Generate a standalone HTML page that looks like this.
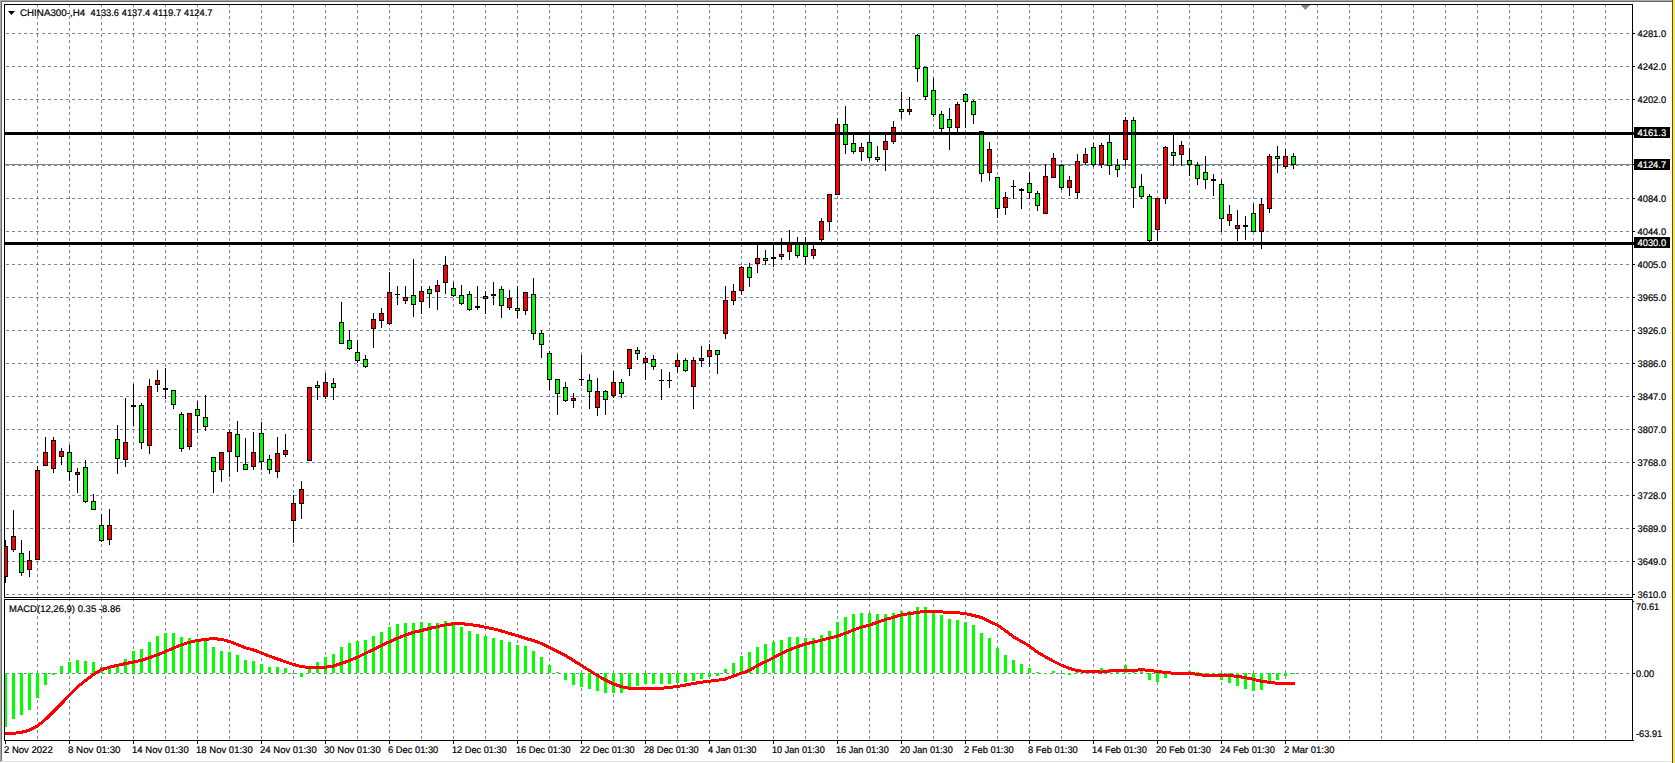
<!DOCTYPE html>
<html lang="en"><head><meta charset="utf-8"><title>CHINA300-,H4</title>
<style>html,body{margin:0;padding:0;background:#fff;overflow:hidden}body{width:1675px;height:763px}svg{display:block}text{font-family:"Liberation Sans",sans-serif;font-size:9.6px;fill:#000;stroke:#000;stroke-width:.2px}.g{stroke:#778899;stroke-width:1;stroke-dasharray:3 3;fill:none}.w{fill:#fff}.k{fill:#000}.r{fill:#f00}.u{fill:#0f0}</style></head><body>
<svg width="1675" height="763" viewBox="0 0 1675 763" shape-rendering="crispEdges">
<rect width="1675" height="763" fill="#fff"/>
<rect x="0" y="0" width="1673" height="1" fill="#a9a9a9"/>
<rect x="0" y="0" width="1" height="762" fill="#a9a9a9"/>
<rect x="1" y="1" width="1671" height="1" fill="#696969"/>
<rect x="1" y="1" width="1" height="760" fill="#696969"/>
<rect x="2" y="761" width="1670" height="1" fill="#e3e3e3"/>
<rect x="1672" y="0" width="1" height="763" fill="#4e4e58"/>
<rect x="1673" y="0" width="2" height="763" fill="#ffe93f"/>
<g class="g">
<path d="M37.5 4V597 M69.5 4V597 M101.5 4V597 M133.5 4V597 M165.5 4V597 M197.5 4V597 M229.5 4V597 M261.5 4V597 M293.5 4V597 M325.5 4V597 M357.5 4V597 M389.5 4V597 M421.5 4V597 M453.5 4V597 M485.5 4V597 M517.5 4V597 M549.5 4V597 M581.5 4V597 M613.5 4V597 M645.5 4V597 M677.5 4V597 M709.5 4V597 M741.5 4V597 M773.5 4V597 M805.5 4V597 M837.5 4V597 M869.5 4V597 M901.5 4V597 M933.5 4V597 M965.5 4V597 M997.5 4V597 M1029.5 4V597 M1061.5 4V597 M1093.5 4V597 M1125.5 4V597 M1157.5 4V597 M1189.5 4V597 M1221.5 4V597 M1253.5 4V597 M1285.5 4V597 M1317.5 4V597 M1349.5 4V597 M1381.5 4V597 M1413.5 4V597 M1445.5 4V597 M1477.5 4V597 M1509.5 4V597 M1541.5 4V597 M1573.5 4V597 M1605.5 4V597"/>
<path d="M37.5 598V740 M69.5 598V740 M101.5 598V740 M133.5 598V740 M165.5 598V740 M197.5 598V740 M229.5 598V740 M261.5 598V740 M293.5 598V740 M325.5 598V740 M357.5 598V740 M389.5 598V740 M421.5 598V740 M453.5 598V740 M485.5 598V740 M517.5 598V740 M549.5 598V740 M581.5 598V740 M613.5 598V740 M645.5 598V740 M677.5 598V740 M709.5 598V740 M741.5 598V740 M773.5 598V740 M805.5 598V740 M837.5 598V740 M869.5 598V740 M901.5 598V740 M933.5 598V740 M965.5 598V740 M997.5 598V740 M1029.5 598V740 M1061.5 598V740 M1093.5 598V740 M1125.5 598V740 M1157.5 598V740 M1189.5 598V740 M1221.5 598V740 M1253.5 598V740 M1285.5 598V740 M1317.5 598V740 M1349.5 598V740 M1381.5 598V740 M1413.5 598V740 M1445.5 598V740 M1477.5 598V740 M1509.5 598V740 M1541.5 598V740 M1573.5 598V740 M1605.5 598V740"/>
<path d="M6 33.5H1632 M6 66.5H1632 M6 99.5H1632 M6 132.5H1632 M6 165.5H1632 M6 198.5H1632 M6 231.5H1632 M6 264.5H1632 M6 297.5H1632 M6 330.5H1632 M6 363.5H1632 M6 396.5H1632 M6 429.5H1632 M6 462.5H1632 M6 495.5H1632 M6 528.5H1632 M6 561.5H1632 M6 594.5H1632"/>
<path d="M6 673.5H1632"/>
</g>
<rect x="5" y="164" width="1627" height="1" fill="#778899"/>
<clipPath id="cm"><rect x="5" y="5" width="1627" height="592"/></clipPath>
<g clip-path="url(#cm)">
<path class="k" d="M5 540h1v43h-1zM13 510h1v42h-1zM21 540h1v36h-1zM29 551h1v26h-1zM37 466h1v94h-1zM45 437h1v29h-1zM53 437h1v36h-1zM61 448h1v17h-1zM69 445h1v36h-1zM77 468h1v25h-1zM85 460h1v43h-1zM93 494h1v16h-1zM101 514h1v28h-1zM109 509h1v36h-1zM117 425h1v49h-1zM125 398h1v69h-1zM133 384h1v42h-1zM141 403h1v46h-1zM149 379h1v75h-1zM157 370h1v22h-1zM165 368h1v31h-1zM173 390h1v19h-1zM181 412h1v40h-1zM189 413h1v37h-1zM197 401h1v32h-1zM205 395h1v36h-1zM213 457h1v36h-1zM221 452h1v30h-1zM229 430h1v47h-1zM237 421h1v51h-1zM245 438h1v32h-1zM253 432h1v38h-1zM261 422h1v48h-1zM269 455h1v19h-1zM277 437h1v41h-1zM285 434h1v23h-1zM293 495h1v48h-1zM301 481h1v38h-1zM309 387h1v74h-1zM317 381h1v19h-1zM325 373h1v26h-1zM333 378h1v22h-1zM341 302h1v42h-1zM349 330h1v20h-1zM357 340h1v23h-1zM365 355h1v13h-1zM373 313h1v35h-1zM381 308h1v20h-1zM389 272h1v53h-1zM397 286h1v19h-1zM405 286h1v18h-1zM413 259h1v58h-1zM421 286h1v28h-1zM429 286h1v22h-1zM437 280h1v30h-1zM445 256h1v38h-1zM453 282h1v15h-1zM461 285h1v20h-1zM469 291h1v20h-1zM477 286h1v24h-1zM485 291h1v23h-1zM493 282h1v23h-1zM501 286h1v32h-1zM509 290h1v20h-1zM517 286h1v32h-1zM525 292h1v23h-1zM533 278h1v62h-1zM541 330h1v28h-1zM549 351h1v39h-1zM557 379h1v36h-1zM565 382h1v20h-1zM573 393h1v15h-1zM581 355h1v31h-1zM589 374h1v35h-1zM597 378h1v38h-1zM605 390h1v25h-1zM613 371h1v27h-1zM621 379h1v19h-1zM629 349h1v27h-1zM637 347h1v13h-1zM645 356h1v24h-1zM653 355h1v15h-1zM661 369h1v31h-1zM669 372h1v16h-1zM677 354h1v19h-1zM685 358h1v14h-1zM693 357h1v52h-1zM701 346h1v21h-1zM709 344h1v23h-1zM717 350h1v24h-1zM725 286h1v53h-1zM733 284h1v21h-1zM741 266h1v29h-1zM749 263h1v24h-1zM757 243h1v30h-1zM765 250h1v15h-1zM773 243h1v24h-1zM781 238h1v22h-1zM789 230h1v30h-1zM797 237h1v21h-1zM805 237h1v27h-1zM813 243h1v16h-1zM821 218h1v26h-1zM829 194h1v37h-1zM837 118h1v77h-1zM845 106h1v48h-1zM853 133h1v21h-1zM861 143h1v18h-1zM869 133h1v28h-1zM877 146h1v16h-1zM885 133h1v38h-1zM893 121h1v23h-1zM901 92h1v27h-1zM909 97h1v18h-1zM917 34h1v48h-1zM925 67h1v33h-1zM933 78h1v39h-1zM941 111h1v23h-1zM949 108h1v42h-1zM957 102h1v32h-1zM965 93h1v35h-1zM973 100h1v24h-1zM981 131h1v51h-1zM989 142h1v39h-1zM997 177h1v41h-1zM1005 192h1v23h-1zM1013 180h1v19h-1zM1021 188h1v21h-1zM1029 172h1v27h-1zM1037 191h1v20h-1zM1045 164h1v50h-1zM1053 153h1v25h-1zM1061 164h1v26h-1zM1069 176h1v20h-1zM1077 154h1v45h-1zM1085 148h1v17h-1zM1093 143h1v24h-1zM1101 143h1v25h-1zM1109 133h1v42h-1zM1117 159h1v18h-1zM1125 117h1v49h-1zM1133 117h1v91h-1zM1141 174h1v25h-1zM1149 194h1v49h-1zM1157 198h1v43h-1zM1165 146h1v58h-1zM1173 133h1v33h-1zM1181 141h1v25h-1zM1189 148h1v28h-1zM1197 162h1v23h-1zM1205 156h1v33h-1zM1213 174h1v22h-1zM1221 180h1v52h-1zM1229 205h1v21h-1zM1237 210h1v31h-1zM1245 216h1v24h-1zM1253 204h1v28h-1zM1261 198h1v51h-1zM1269 154h1v59h-1zM1277 146h1v27h-1zM1285 149h1v20h-1zM1293 153h1v16h-1z"/>
<path class="k" d="M3 546h5v31h-5zM11 536h5v14h-5zM19 553h5v20h-5zM27 560h5v10h-5zM35 470h5v90h-5zM43 452h5v14h-5zM51 440h5v29h-5zM59 451h5v6h-5zM67 452h5v20h-5zM75 472h5v3h-5zM83 467h5v35h-5zM91 501h5v9h-5zM99 525h5v16h-5zM107 525h5v15h-5zM115 439h5v20h-5zM123 442h5v18h-5zM131 405h5v2h-5zM139 405h5v38h-5zM147 386h5v60h-5zM155 380h5v5h-5zM163 388h5v2h-5zM171 390h5v15h-5zM179 414h5v35h-5zM187 413h5v34h-5zM195 409h5v7h-5zM203 417h5v10h-5zM211 457h5v15h-5zM219 452h5v18h-5zM227 432h5v20h-5zM235 434h5v23h-5zM243 464h5v6h-5zM251 452h5v15h-5zM259 433h5v29h-5zM267 459h5v11h-5zM275 453h5v19h-5zM283 450h5v5h-5zM291 503h5v18h-5zM299 489h5v15h-5zM307 387h5v74h-5zM315 385h5v3h-5zM323 382h5v15h-5zM331 383h5v5h-5zM339 322h5v22h-5zM347 340h5v9h-5zM355 352h5v9h-5zM363 359h5v8h-5zM371 319h5v10h-5zM379 313h5v8h-5zM387 292h5v32h-5zM395 294h5v1h-5zM403 297h5v4h-5zM411 295h5v10h-5zM419 291h5v11h-5zM427 289h5v5h-5zM435 285h5v7h-5zM443 265h5v18h-5zM451 288h5v8h-5zM459 295h5v9h-5zM467 294h5v16h-5zM475 306h5v2h-5zM483 296h5v3h-5zM491 294h5v2h-5zM499 289h5v17h-5zM507 298h5v10h-5zM515 308h5v3h-5zM523 292h5v19h-5zM531 294h5v40h-5zM539 333h5v12h-5zM547 353h5v27h-5zM555 379h5v15h-5zM563 387h5v14h-5zM571 398h5v3h-5zM579 379h5v1h-5zM587 380h5v12h-5zM595 391h5v17h-5zM603 391h5v9h-5zM611 382h5v14h-5zM619 382h5v12h-5zM627 349h5v20h-5zM635 350h5v4h-5zM643 358h5v5h-5zM651 359h5v8h-5zM659 380h5v1h-5zM667 380h5v1h-5zM675 360h5v7h-5zM683 360h5v11h-5zM691 360h5v27h-5zM699 358h5v3h-5zM707 350h5v7h-5zM715 350h5v5h-5zM723 300h5v34h-5zM731 291h5v10h-5zM739 267h5v24h-5zM747 267h5v11h-5zM755 258h5v6h-5zM763 258h5v3h-5zM771 257h5v2h-5zM779 254h5v3h-5zM787 243h5v9h-5zM795 243h5v13h-5zM803 244h5v13h-5zM811 249h5v7h-5zM819 221h5v19h-5zM827 194h5v28h-5zM835 124h5v71h-5zM843 124h5v21h-5zM851 143h5v9h-5zM859 147h5v5h-5zM867 142h5v16h-5zM875 157h5v3h-5zM883 141h5v9h-5zM891 127h5v15h-5zM899 109h5v3h-5zM907 109h5v3h-5zM915 35h5v34h-5zM923 67h5v30h-5zM931 90h5v25h-5zM939 114h5v15h-5zM947 119h5v9h-5zM955 104h5v24h-5zM963 94h5v8h-5zM971 101h5v14h-5zM979 131h5v43h-5zM987 149h5v24h-5zM995 177h5v32h-5zM1003 197h5v11h-5zM1011 186h5v1h-5zM1019 189h5v2h-5zM1027 183h5v10h-5zM1035 193h5v13h-5zM1043 176h5v38h-5zM1051 158h5v20h-5zM1059 165h5v23h-5zM1067 180h5v8h-5zM1075 161h5v32h-5zM1083 154h5v9h-5zM1091 147h5v18h-5zM1099 145h5v20h-5zM1107 142h5v24h-5zM1115 165h5v5h-5zM1123 120h5v40h-5zM1131 120h5v68h-5zM1139 186h5v11h-5zM1147 196h5v45h-5zM1155 198h5v32h-5zM1163 147h5v52h-5zM1171 152h5v4h-5zM1179 145h5v10h-5zM1187 160h5v5h-5zM1195 165h5v14h-5zM1203 172h5v8h-5zM1211 179h5v2h-5zM1219 184h5v35h-5zM1227 214h5v7h-5zM1235 225h5v4h-5zM1243 225h5v2h-5zM1251 213h5v19h-5zM1259 204h5v28h-5zM1267 156h5v53h-5zM1275 156h5v3h-5zM1283 156h5v11h-5zM1291 156h5v9h-5z"/>
<path class="r" d="M4 547h3v29h-3zM12 537h3v12h-3zM28 561h3v8h-3zM36 471h3v88h-3zM44 453h3v12h-3zM52 441h3v27h-3zM60 452h3v4h-3zM76 473h3v1h-3zM108 526h3v13h-3zM124 443h3v16h-3zM148 387h3v58h-3zM156 381h3v3h-3zM188 414h3v32h-3zM220 453h3v16h-3zM228 433h3v18h-3zM252 453h3v13h-3zM276 454h3v17h-3zM284 451h3v3h-3zM292 504h3v16h-3zM300 490h3v13h-3zM308 388h3v72h-3zM324 383h3v13h-3zM372 320h3v8h-3zM380 314h3v6h-3zM388 293h3v30h-3zM404 298h3v2h-3zM420 292h3v9h-3zM436 286h3v5h-3zM444 266h3v16h-3zM484 297h3v1h-3zM508 299h3v8h-3zM524 293h3v17h-3zM572 399h3v1h-3zM596 392h3v15h-3zM612 383h3v12h-3zM628 350h3v18h-3zM644 359h3v3h-3zM676 361h3v5h-3zM692 361h3v25h-3zM700 359h3v1h-3zM708 351h3v5h-3zM724 301h3v32h-3zM732 292h3v8h-3zM740 268h3v22h-3zM756 259h3v4h-3zM780 255h3v1h-3zM788 244h3v7h-3zM812 250h3v5h-3zM820 222h3v17h-3zM828 195h3v26h-3zM836 125h3v69h-3zM860 148h3v3h-3zM884 142h3v7h-3zM892 128h3v13h-3zM908 110h3v1h-3zM956 105h3v22h-3zM988 150h3v22h-3zM1004 198h3v9h-3zM1044 177h3v36h-3zM1052 159h3v18h-3zM1068 181h3v6h-3zM1076 162h3v30h-3zM1084 155h3v7h-3zM1100 146h3v18h-3zM1124 121h3v38h-3zM1156 199h3v30h-3zM1164 148h3v50h-3zM1180 146h3v8h-3zM1228 215h3v5h-3zM1236 226h3v2h-3zM1260 205h3v26h-3zM1268 157h3v51h-3zM1284 157h3v9h-3z"/>
<path class="u" d="M20 554h3v18h-3zM68 453h3v18h-3zM84 468h3v33h-3zM92 502h3v7h-3zM100 526h3v14h-3zM116 440h3v18h-3zM140 406h3v36h-3zM172 391h3v13h-3zM180 415h3v33h-3zM196 410h3v5h-3zM204 418h3v8h-3zM212 458h3v13h-3zM236 435h3v21h-3zM244 465h3v4h-3zM260 434h3v27h-3zM268 460h3v9h-3zM316 386h3v1h-3zM332 384h3v3h-3zM340 323h3v20h-3zM348 341h3v7h-3zM356 353h3v7h-3zM364 360h3v6h-3zM412 296h3v8h-3zM428 290h3v3h-3zM452 289h3v6h-3zM460 296h3v7h-3zM468 295h3v14h-3zM500 290h3v15h-3zM516 309h3v1h-3zM532 295h3v38h-3zM540 334h3v10h-3zM548 354h3v25h-3zM556 380h3v13h-3zM564 388h3v12h-3zM588 381h3v10h-3zM604 392h3v7h-3zM620 383h3v10h-3zM636 351h3v2h-3zM652 360h3v6h-3zM684 361h3v9h-3zM716 351h3v3h-3zM748 268h3v9h-3zM764 259h3v1h-3zM796 244h3v11h-3zM804 245h3v11h-3zM844 125h3v19h-3zM852 144h3v7h-3zM868 143h3v14h-3zM876 158h3v1h-3zM900 110h3v1h-3zM916 36h3v32h-3zM924 68h3v28h-3zM932 91h3v23h-3zM940 115h3v13h-3zM948 120h3v7h-3zM964 95h3v6h-3zM972 102h3v12h-3zM980 132h3v41h-3zM996 178h3v30h-3zM1028 184h3v8h-3zM1036 194h3v11h-3zM1060 166h3v21h-3zM1092 148h3v16h-3zM1108 143h3v22h-3zM1116 166h3v3h-3zM1132 121h3v66h-3zM1140 187h3v9h-3zM1148 197h3v43h-3zM1172 153h3v2h-3zM1188 161h3v3h-3zM1196 166h3v12h-3zM1204 173h3v6h-3zM1220 185h3v33h-3zM1252 214h3v17h-3zM1276 157h3v1h-3zM1292 157h3v7h-3z"/>
</g>
<rect x="5" y="132" width="1629" height="3" class="k"/>
<rect x="5" y="242" width="1629" height="3" class="k"/>
<clipPath id="ci"><rect x="5" y="600" width="1627" height="140"/></clipPath>
<g clip-path="url(#ci)">
<path class="u" d="M4 673h3v54h-3zM12 673h3v46h-3zM20 673h3v42h-3zM28 673h3v37h-3zM36 673h3v25h-3zM44 673h3v12h-3zM52 673h3v2h-3zM60 666h3v7h-3zM68 662h3v11h-3zM76 660h3v13h-3zM84 661h3v12h-3zM92 662h3v11h-3zM100 667h3v6h-3zM108 668h3v5h-3zM116 665h3v8h-3zM124 659h3v14h-3zM132 651h3v22h-3zM140 649h3v24h-3zM148 642h3v31h-3zM156 636h3v37h-3zM164 633h3v40h-3zM172 633h3v40h-3zM180 637h3v36h-3zM188 638h3v35h-3zM196 640h3v33h-3zM204 641h3v32h-3zM212 647h3v26h-3zM220 651h3v22h-3zM228 652h3v21h-3zM236 655h3v18h-3zM244 660h3v13h-3zM252 661h3v12h-3zM260 664h3v9h-3zM268 667h3v6h-3zM276 667h3v6h-3zM284 668h3v5h-3zM292 673h3v1h-3zM300 673h3v4h-3zM308 668h3v5h-3zM316 662h3v11h-3zM324 657h3v16h-3zM332 654h3v19h-3zM340 647h3v26h-3zM348 643h3v30h-3zM356 641h3v32h-3zM364 640h3v33h-3zM372 636h3v37h-3zM380 632h3v41h-3zM388 627h3v46h-3zM396 624h3v49h-3zM404 623h3v50h-3zM412 623h3v50h-3zM420 622h3v51h-3zM428 623h3v50h-3zM436 623h3v50h-3zM444 621h3v52h-3zM452 624h3v49h-3zM460 627h3v46h-3zM468 631h3v42h-3zM476 634h3v39h-3zM484 636h3v37h-3zM492 638h3v35h-3zM500 640h3v33h-3zM508 642h3v31h-3zM516 645h3v28h-3zM524 646h3v27h-3zM532 651h3v22h-3zM540 657h3v16h-3zM548 665h3v8h-3zM556 672h3v1h-3zM564 673h3v7h-3zM572 673h3v12h-3zM580 673h3v14h-3zM588 673h3v16h-3zM596 673h3v18h-3zM604 673h3v20h-3zM612 673h3v20h-3zM620 673h3v20h-3zM628 673h3v16h-3zM636 673h3v13h-3zM644 673h3v11h-3zM652 673h3v11h-3zM660 673h3v11h-3zM668 673h3v11h-3zM676 673h3v10h-3zM684 673h3v9h-3zM692 673h3v8h-3zM700 673h3v6h-3zM708 673h3v4h-3zM716 673h3v3h-3zM724 669h3v4h-3zM732 663h3v10h-3zM740 656h3v17h-3zM748 652h3v21h-3zM756 647h3v26h-3zM764 644h3v29h-3zM772 642h3v31h-3zM780 640h3v33h-3zM788 637h3v36h-3zM796 637h3v36h-3zM804 638h3v35h-3zM812 638h3v35h-3zM820 635h3v38h-3zM828 631h3v42h-3zM836 622h3v51h-3zM844 617h3v56h-3zM852 614h3v59h-3zM860 613h3v60h-3zM868 613h3v60h-3zM876 614h3v59h-3zM884 614h3v59h-3zM892 613h3v60h-3zM900 611h3v62h-3zM908 611h3v62h-3zM916 607h3v66h-3zM924 607h3v66h-3zM932 612h3v61h-3zM940 615h3v58h-3zM948 619h3v54h-3zM956 620h3v53h-3zM964 622h3v51h-3zM972 625h3v48h-3zM980 633h3v40h-3zM988 638h3v35h-3zM996 648h3v25h-3zM1004 655h3v18h-3zM1012 660h3v13h-3zM1020 664h3v9h-3zM1028 668h3v5h-3zM1036 672h3v1h-3zM1044 673h3v1h-3zM1052 671h3v2h-3zM1060 673h3v1h-3zM1068 673h3v2h-3zM1076 671h3v2h-3zM1084 672h3v1h-3zM1092 672h3v1h-3zM1100 668h3v5h-3zM1108 669h3v4h-3zM1116 669h3v4h-3zM1124 665h3v8h-3zM1132 671h3v2h-3zM1140 671h3v2h-3zM1148 673h3v7h-3zM1156 673h3v9h-3zM1164 673h3v5h-3zM1172 673h3v1h-3zM1180 673h3v1h-3zM1188 671h3v2h-3zM1196 672h3v1h-3zM1204 673h3v1h-3zM1212 673h3v1h-3zM1220 673h3v7h-3zM1228 673h3v10h-3zM1236 673h3v13h-3zM1244 673h3v16h-3zM1252 673h3v18h-3zM1260 673h3v17h-3zM1268 673h3v11h-3zM1276 673h3v7h-3zM1284 673h3v3h-3zM1292 673h3v1h-3z"/>
<polyline points="5.5,733.4 13.5,733.3 21.5,732.3 29.5,730.2 37.5,725.9 45.5,719.4 53.5,711.4 61.5,703.5 69.5,695.2 77.5,686.9 85.5,680.5 93.5,674.4 101.5,669.6 109.5,667.2 117.5,665.3 125.5,663.6 133.5,662.0 141.5,660.3 149.5,657.7 157.5,654.8 165.5,651.6 173.5,648.0 181.5,644.8 189.5,642.3 197.5,640.4 205.5,639.4 213.5,638.6 221.5,639.4 229.5,641.5 237.5,644.6 245.5,647.8 253.5,650.0 261.5,652.9 269.5,656.2 277.5,659.0 285.5,661.9 293.5,664.5 301.5,666.7 309.5,667.4 317.5,667.4 325.5,667.3 333.5,666.0 341.5,663.4 349.5,660.5 357.5,657.2 365.5,653.3 373.5,649.4 381.5,645.4 389.5,641.8 397.5,638.2 405.5,635.0 413.5,632.4 421.5,630.5 429.5,628.5 437.5,626.6 445.5,624.9 453.5,623.7 461.5,623.7 469.5,624.5 477.5,625.6 485.5,627.3 493.5,628.8 501.5,631.0 509.5,633.4 517.5,635.7 525.5,638.4 533.5,640.6 541.5,643.6 549.5,647.5 557.5,651.4 565.5,655.5 573.5,660.5 581.5,665.5 589.5,670.6 597.5,675.6 605.5,680.0 613.5,684.0 621.5,686.7 629.5,688.3 637.5,689.0 645.5,688.6 653.5,688.3 661.5,688.3 669.5,687.5 677.5,686.4 685.5,685.0 693.5,683.5 701.5,682.2 709.5,681.2 717.5,680.3 725.5,679.0 733.5,676.0 741.5,673.2 749.5,670.3 757.5,665.6 765.5,661.7 773.5,657.7 781.5,653.6 789.5,649.7 797.5,646.8 805.5,644.0 813.5,642.1 821.5,640.1 829.5,638.2 837.5,636.0 845.5,633.2 853.5,630.0 861.5,627.1 869.5,625.2 877.5,622.3 885.5,619.5 893.5,617.3 901.5,614.8 909.5,613.7 917.5,612.3 925.5,611.5 933.5,611.8 941.5,611.8 949.5,612.7 957.5,612.7 965.5,613.7 973.5,615.4 981.5,617.6 989.5,621.6 997.5,625.2 1005.5,630.7 1013.5,636.8 1021.5,641.4 1029.5,646.1 1037.5,652.2 1045.5,656.9 1053.5,661.3 1061.5,665.2 1069.5,668.5 1077.5,670.6 1085.5,671.6 1093.5,671.6 1101.5,672.1 1109.5,670.9 1117.5,670.9 1125.5,670.6 1133.5,670.5 1141.5,669.6 1149.5,670.5 1157.5,671.4 1165.5,672.5 1173.5,673.2 1181.5,673.2 1189.5,673.2 1197.5,674.4 1205.5,675.4 1213.5,675.4 1221.5,675.4 1229.5,675.4 1237.5,676.4 1245.5,677.6 1253.5,679.4 1261.5,681.2 1269.5,682.3 1277.5,683.3 1285.5,683.3 1293.5,683.3" fill="none" stroke="#f00" stroke-width="3" stroke-linejoin="round" stroke-linecap="square" shape-rendering="crispEdges"/>
</g>
<path class="k" d="M4 4H1633V5H4z M4 4H5V598H4z M4 597H1633V598H4z M1632 4H1633V598H1632z M1632 599H1633V741H1632z M4 599H1633V600H4z M4 599H5V741H4z M4 740H1634V741H4z"/>
<path d="M1300.7 5H1310.1L1305.4 10z" fill="#778899" shape-rendering="geometricPrecision"/>
<path class="k" d="M1633 33h2v1h-2zM1633 66h2v1h-2zM1633 99h2v1h-2zM1633 198h2v1h-2zM1633 231h2v1h-2zM1633 264h2v1h-2zM1633 297h2v1h-2zM1633 330h2v1h-2zM1633 363h2v1h-2zM1633 396h2v1h-2zM1633 429h2v1h-2zM1633 462h2v1h-2zM1633 495h2v1h-2zM1633 528h2v1h-2zM1633 561h2v1h-2zM1633 594h2v1h-2zM1633 601h1v1h-1zM1633 164h1v1h-1zM1633 673h2v1h-2zM5 741h1v3h-1zM69 741h1v3h-1zM133 741h1v3h-1zM197 741h1v3h-1zM261 741h1v3h-1zM325 741h1v3h-1zM389 741h1v3h-1zM453 741h1v3h-1zM517 741h1v3h-1zM581 741h1v3h-1zM645 741h1v3h-1zM709 741h1v3h-1zM773 741h1v3h-1zM837 741h1v3h-1zM901 741h1v3h-1zM965 741h1v3h-1zM1029 741h1v3h-1zM1093 741h1v3h-1zM1157 741h1v3h-1zM1221 741h1v3h-1zM1285 741h1v3h-1z"/>
<g shape-rendering="geometricPrecision" text-rendering="geometricPrecision">
<text x="1637.5" y="37" textLength="28.6" lengthAdjust="spacingAndGlyphs">4281.0</text>
<text x="1637.5" y="70" textLength="28.6" lengthAdjust="spacingAndGlyphs">4242.0</text>
<text x="1637.5" y="103" textLength="28.6" lengthAdjust="spacingAndGlyphs">4202.0</text>
<text x="1637.5" y="202" textLength="28.6" lengthAdjust="spacingAndGlyphs">4084.0</text>
<text x="1637.5" y="235" textLength="28.6" lengthAdjust="spacingAndGlyphs">4044.0</text>
<text x="1637.5" y="268" textLength="28.6" lengthAdjust="spacingAndGlyphs">4005.0</text>
<text x="1637.5" y="301" textLength="28.6" lengthAdjust="spacingAndGlyphs">3965.0</text>
<text x="1637.5" y="334" textLength="28.6" lengthAdjust="spacingAndGlyphs">3926.0</text>
<text x="1637.5" y="367" textLength="28.6" lengthAdjust="spacingAndGlyphs">3886.0</text>
<text x="1637.5" y="400" textLength="28.6" lengthAdjust="spacingAndGlyphs">3847.0</text>
<text x="1637.5" y="433" textLength="28.6" lengthAdjust="spacingAndGlyphs">3807.0</text>
<text x="1637.5" y="466" textLength="28.6" lengthAdjust="spacingAndGlyphs">3768.0</text>
<text x="1637.5" y="499" textLength="28.6" lengthAdjust="spacingAndGlyphs">3728.0</text>
<text x="1637.5" y="532" textLength="28.6" lengthAdjust="spacingAndGlyphs">3689.0</text>
<text x="1637.5" y="565" textLength="28.6" lengthAdjust="spacingAndGlyphs">3649.0</text>
<text x="1637.5" y="598" textLength="28.6" lengthAdjust="spacingAndGlyphs">3610.0</text>
<text x="1636" y="610" textLength="23.2" lengthAdjust="spacingAndGlyphs">70.61</text>
<text x="1636" y="677" textLength="18.2" lengthAdjust="spacingAndGlyphs">0.00</text>
<text x="1636" y="737" textLength="26.2" lengthAdjust="spacingAndGlyphs">-63.91</text>
<rect x="1634" y="127" width="36" height="11" class="k" shape-rendering="crispEdges"/>
<text x="1637.5" y="136" textLength="28.6" lengthAdjust="spacingAndGlyphs" style="fill:#fff;stroke:#fff">4161.3</text>
<rect x="1634" y="159" width="36" height="11" class="k" shape-rendering="crispEdges"/>
<text x="1637.5" y="168" textLength="28.6" lengthAdjust="spacingAndGlyphs" style="fill:#fff;stroke:#fff">4124.7</text>
<rect x="1634" y="237" width="36" height="11" class="k" shape-rendering="crispEdges"/>
<text x="1637.5" y="246" textLength="28.6" lengthAdjust="spacingAndGlyphs" style="fill:#fff;stroke:#fff">4030.0</text>
<text x="4" y="753" textLength="48.7" lengthAdjust="spacingAndGlyphs">2 Nov 2022</text>
<text x="68" y="753" textLength="52.5" lengthAdjust="spacingAndGlyphs">8 Nov 01:30</text>
<text x="132" y="753" textLength="56.7" lengthAdjust="spacingAndGlyphs">14 Nov 01:30</text>
<text x="196" y="753" textLength="56.7" lengthAdjust="spacingAndGlyphs">18 Nov 01:30</text>
<text x="260" y="753" textLength="56.7" lengthAdjust="spacingAndGlyphs">24 Nov 01:30</text>
<text x="324" y="753" textLength="56.7" lengthAdjust="spacingAndGlyphs">30 Nov 01:30</text>
<text x="388" y="753" textLength="50.3" lengthAdjust="spacingAndGlyphs">6 Dec 01:30</text>
<text x="452" y="753" textLength="54.7" lengthAdjust="spacingAndGlyphs">12 Dec 01:30</text>
<text x="516" y="753" textLength="54.7" lengthAdjust="spacingAndGlyphs">16 Dec 01:30</text>
<text x="580" y="753" textLength="54.7" lengthAdjust="spacingAndGlyphs">22 Dec 01:30</text>
<text x="644" y="753" textLength="54.7" lengthAdjust="spacingAndGlyphs">28 Dec 01:30</text>
<text x="708" y="753" textLength="48.5" lengthAdjust="spacingAndGlyphs">4 Jan 01:30</text>
<text x="772" y="753" textLength="52.7" lengthAdjust="spacingAndGlyphs">10 Jan 01:30</text>
<text x="836" y="753" textLength="52.7" lengthAdjust="spacingAndGlyphs">16 Jan 01:30</text>
<text x="900" y="753" textLength="52.7" lengthAdjust="spacingAndGlyphs">20 Jan 01:30</text>
<text x="964" y="753" textLength="49.8" lengthAdjust="spacingAndGlyphs">2 Feb 01:30</text>
<text x="1028" y="753" textLength="49.8" lengthAdjust="spacingAndGlyphs">8 Feb 01:30</text>
<text x="1092" y="753" textLength="55.0" lengthAdjust="spacingAndGlyphs">14 Feb 01:30</text>
<text x="1156" y="753" textLength="55.0" lengthAdjust="spacingAndGlyphs">20 Feb 01:30</text>
<text x="1220" y="753" textLength="55.0" lengthAdjust="spacingAndGlyphs">24 Feb 01:30</text>
<text x="1284" y="753" textLength="50.4" lengthAdjust="spacingAndGlyphs">2 Mar 01:30</text>
<path class="k" d="M8 11H15L11.5 15z"/>
<text x="20" y="16" textLength="65.2" lengthAdjust="spacingAndGlyphs">CHINA300-,H4</text>
<text x="90.6" y="16" textLength="28.4" lengthAdjust="spacingAndGlyphs">4133.6</text>
<text x="121.8" y="16" textLength="28.4" lengthAdjust="spacingAndGlyphs">4137.4</text>
<text x="152.8" y="16" textLength="28.4" lengthAdjust="spacingAndGlyphs">4119.7</text>
<text x="184" y="16" textLength="28.4" lengthAdjust="spacingAndGlyphs">4124.7</text>
<text x="9" y="612" textLength="111.5" lengthAdjust="spacingAndGlyphs">MACD(12,26,9) 0.35 -8.86</text>
</g>
</svg></body></html>
